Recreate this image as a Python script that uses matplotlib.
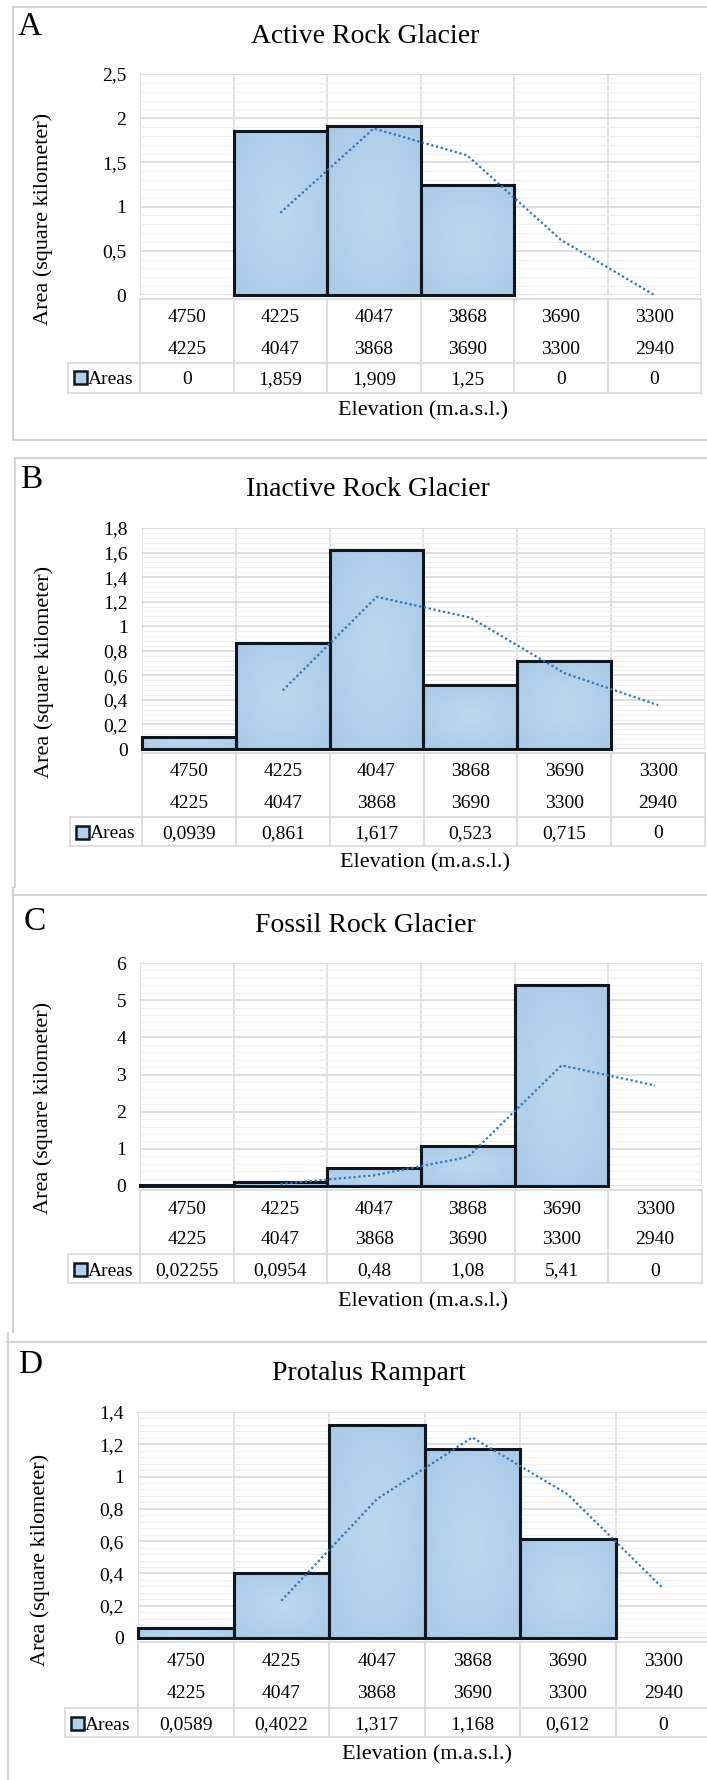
import numpy as np
import matplotlib
matplotlib.use('Agg')
import matplotlib.pyplot as plt
from matplotlib.colors import LinearSegmentedColormap
from matplotlib.lines import Line2D
from matplotlib.patches import Rectangle
from matplotlib.ticker import MultipleLocator, FuncFormatter

plt.rcParams['font.family'] = ['Liberation Serif', 'DejaVu Serif']

# elevation classes (upper / lower bound, m a.s.l.)
upper = [4750, 4225, 4047, 3868, 3690, 3300]
lower = [4225, 4047, 3868, 3690, 3300, 2940]

letters = ['A', 'B', 'C', 'D']
titles = ['Active Rock Glacier', 'Inactive Rock Glacier', 'Fossil Rock Glacier', 'Protalus Rampart']

active = [0, 1.859, 1.909, 1.25, 0, 0]
inactive = [0.0939, 0.861, 1.617, 0.523, 0.715, 0]
fossil = [0.02255, 0.0954, 0.48, 1.08, 5.41, 0]
protalus = [0.0589, 0.4022, 1.317, 1.168, 0.612, 0]
series = [active, inactive, fossil, protalus]

y_max = [2.5, 1.8, 6, 1.4]
y_step = [0.5, 0.2, 1, 0.2]

# pixel layout of every panel
layout = [
    dict(left=140, right=701, top=74, zero=295, ttop=299, r1=315, r2=347, rline=363, r3=378, tbot=393,
         leg=68, xlab=411, title=(365, 43), letter=(18, 35), ylab=(43, 219)),
    dict(left=142, right=705, top=528, zero=749, ttop=753, r1=769, r2=802, rline=817, r3=832, tbot=846,
         leg=70, xlab=863, title=(368, 496), letter=(20, 488), ylab=(44, 672)),
    dict(left=140, right=702, top=963, zero=1186, ttop=1190, r1=1207, r2=1238, rline=1254, r3=1269, tbot=1283,
         leg=68, xlab=1302, title=(365, 932), letter=(24, 930), ylab=(43, 1108)),
    dict(left=138, right=711, top=1412, zero=1638, ttop=1642, r1=1659, r2=1692, rline=1708, r3=1723, tbot=1737,
         leg=65, xlab=1755, title=(369, 1380), letter=(18, 1373), ylab=(40, 1560)),
]

W, H = 707, 1780
fig = plt.figure(figsize=(W / 100, H / 100), dpi=100)

grid_c = '#D9D9D9'
frame_c = '#D4D4D4'
edge_c = '#10161F'
trend_c = '#2E75B6'
cmap = LinearSegmentedColormap.from_list('fill', ['#BFD8EF', '#A9C9E7'])


def fx(x):
    return x / W


def fy(y):
    return 1 - y / H


def hline(y, x0, x1, c=grid_c, lw=1.2):
    fig.add_artist(Line2D([fx(x0), fx(x1)], [fy(y), fy(y)], color=c, lw=lw, transform=fig.transFigure))


def vline(x, y0, y1, c=grid_c, lw=1.2):
    fig.add_artist(Line2D([fx(x), fx(x)], [fy(y0), fy(y1)], color=c, lw=lw, transform=fig.transFigure))


def comma(v):
    return f'{v:g}'.replace('.', ',')


# panel frames
hline(7, 13, 707, frame_c, 1.5); hline(440, 13, 707, frame_c, 1.5); vline(13, 7, 440, frame_c, 1.5)
hline(458, 15, 707, frame_c, 1.5); vline(15, 458, 887, frame_c, 1.5)
hline(895, 13, 707, frame_c, 1.5); vline(13, 888, 1332, frame_c, 1.5)
hline(1342, 7, 707, frame_c, 1.5); vline(8, 1333, 1780, frame_c, 1.5)

x = np.arange(len(upper))
yy, xx = np.mgrid[-1:1:120j, -1:1:120j]
rad = np.clip(np.sqrt(xx ** 2 + yy ** 2) / np.sqrt(2), 0, 1)

for k, vals in enumerate(series):
    L = layout[k]
    ax = fig.add_axes([fx(L['left']), fy(L['zero']), (L['right'] - L['left']) / W, (L['zero'] - L['top']) / H])
    ax.set_axisbelow(True)

    bars = ax.bar(x, vals, width=1.0, color='#B3D0EB', linewidth=0, zorder=2)
    for p in bars:
        if p.get_height() <= 0:
            continue
        im = ax.imshow(rad, extent=[p.get_x(), p.get_x() + p.get_width(), 0, p.get_height()],
                       cmap=cmap, vmin=0, vmax=1, aspect='auto', zorder=2.2, interpolation='bilinear')
        im.set_clip_path(p)
    lws = [2.2 if v > 0 else 0 for v in vals]
    ax.bar(x, vals, width=1.0, fill=False, edgecolor=edge_c, linewidth=lws, zorder=3, clip_on=False)

    # moving average (2 periods) trend line
    ma = [(vals[i - 1] + vals[i]) / 2 for i in range(1, len(vals))]
    ax.plot(x[1:], ma, color=trend_c, lw=1.6, ls=(0, (1, 1.2)), zorder=4)

    ax.set_xlim(-0.5, len(x) - 0.5)
    ax.set_ylim(0, y_max[k])
    ax.set_xticks(np.arange(-0.5, len(x)))
    ax.set_xticklabels([])
    ax.yaxis.set_major_locator(MultipleLocator(y_step[k]))
    ax.yaxis.set_minor_locator(MultipleLocator(y_step[k] / 5))
    ax.yaxis.set_major_formatter(FuncFormatter(lambda v, p: comma(round(v, 6))))
    ax.tick_params(axis='both', which='both', length=0)
    ax.tick_params(axis='y', labelsize=14, pad=10)
    ax.grid(axis='y', which='major', color=grid_c, lw=1.2)
    ax.grid(axis='y', which='minor', color='#EFEFEF', lw=0.8)
    ax.grid(axis='x', which='major', color=grid_c, lw=1.1)
    for s in ax.spines.values():
        s.set_visible(False)

    # data table below the plot
    colw = (L['right'] - L['left']) / len(x)
    hline(L['ttop'], L['left'], L['right'])
    hline(L['rline'], L['leg'], L['right'])
    hline(L['tbot'], L['leg'], L['right'])
    vline(L['leg'], L['rline'], L['tbot'])
    for i in range(len(x) + 1):
        vline(L['left'] + i * colw, L['ttop'], L['tbot'])
    for i in range(len(x)):
        cx = fx(L['left'] + (i + 0.5) * colw)
        fig.text(cx, fy(L['r1'] + 6.5), str(upper[i]), ha='center', va='baseline', fontsize=14)
        fig.text(cx, fy(L['r2'] + 6.5), str(lower[i]), ha='center', va='baseline', fontsize=14)
        fig.text(cx, fy(L['r3'] + 6.5), comma(vals[i]), ha='center', va='baseline', fontsize=14)
    sq = 13
    fig.add_artist(Rectangle((fx(L['leg'] + 6), fy(L['r3'] + sq / 2)), sq / W, sq / H,
                             facecolor='#B3D0EB', edgecolor=edge_c, lw=1.8, transform=fig.transFigure))
    fig.text(fx(L['leg'] + 20), fy(L['r3'] + 6.5), 'Areas', ha='left', va='baseline', fontsize=14)

    # labels
    fig.text(fx(L['xlab'][0] if isinstance(L['xlab'], tuple) else (L['left'] + L['right']) / 2 + 2),
             fy(L['xlab']), 'Elevation (m.a.s.l.)', ha='center', va='center', fontsize=16)
    fig.text(fx(L['ylab'][0]), fy(L['ylab'][1]), 'Area (square kilometer)', rotation=90,
             ha='center', va='center', fontsize=16)
    fig.text(fx(L['title'][0]), fy(L['title'][1]), titles[k], ha='center', va='baseline', fontsize=20)
    fig.text(fx(L['letter'][0]), fy(L['letter'][1]), letters[k], ha='left', va='baseline', fontsize=24)

fig.savefig('out.png', dpi=100)
